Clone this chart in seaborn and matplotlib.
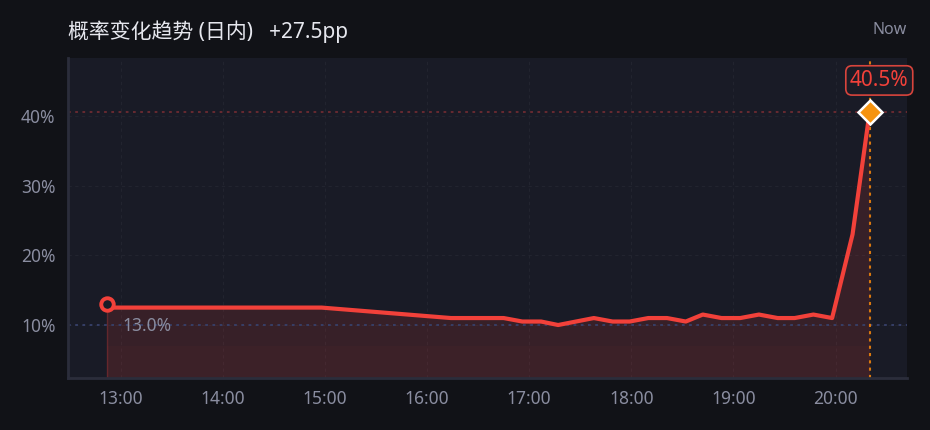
"""
Intraday probability trend chart (dark theme).
"""

import pandas as pd
import matplotlib
matplotlib.use("Agg")
import matplotlib.pyplot as plt
import matplotlib.dates as mdates
from matplotlib.ticker import FuncFormatter
import seaborn as sns

# data
times = ["12:52", "12:55", "14:58", "16:14", "16:45", "16:56", "17:07", "17:17",
         "17:38", "17:49", "17:59", "18:10", "18:21", "18:32", "18:42", "18:53",
         "19:04", "19:15", "19:26", "19:36", "19:47", "19:58", "20:10", "20:20"]
probs = [13.0, 12.5, 12.5, 11.0, 11.0, 10.5, 10.5, 10.0,
         11.0, 10.5, 10.5, 11.0, 11.0, 10.5, 11.5, 11.0,
         11.0, 11.5, 11.0, 11.0, 11.5, 11.0, 23.0, 40.5]
title_text = "概率变化趋势 (日内)   +27.5pp"
y_ticks = [10, 20, 30, 40]
ref_level = 10
x_range = ("12:29", "20:42")
y_range = (2.4, 48.3)

day = "2024-01-01 "
df = pd.DataFrame({"time": pd.to_datetime([day + t for t in times]),
                   "prob": probs})

BG = "#111217"
AX_BG = "#191b26"
RED = "#f2413a"
GRAY = "#8a8da0"
ORANGE = "#f5930f"

sns.set_theme(style="dark")
plt.rcParams["font.family"] = ["Noto Sans", "Noto Sans CJK SC", "DejaVu Sans"]

fig = plt.figure(figsize=(9.3, 4.3), dpi=100, facecolor=BG)
ax = fig.add_axes([68 / 930, 52 / 430, (907 - 68) / 930, (378 - 58) / 430])
ax.set_facecolor(AX_BG)

x0 = pd.Timestamp(day + x_range[0])
x1 = pd.Timestamp(day + x_range[1])
ax.set_xlim(x0, x1)
ax.set_ylim(*y_range)

# grid
ax.grid(True, color="#22242f", linestyle="--", linewidth=0.8, dashes=(3, 3))
ax.set_axisbelow(True)

# filled area under the line (two layers for a soft gradient)
bottom = y_range[0]
ax.fill_between(df["time"], df["prob"], bottom, color=RED, alpha=0.14,
                linewidth=0, zorder=1)
ax.fill_between(df["time"], [min(p, 7.0) for p in df["prob"]], bottom,
                color=RED, alpha=0.03, linewidth=0, zorder=1)
ax.vlines(df["time"].iloc[0], bottom, df["prob"].iloc[0], color=RED,
          alpha=0.3, linewidth=1, zorder=1)

# reference lines
last_t = df["time"].iloc[-1]
last_p = df["prob"].iloc[-1]
ax.axhline(ref_level, color="#37416b", linestyle=(0, (1.5, 2.5)), linewidth=1.3, zorder=2)
ax.axhline(last_p, color="#6e2b32", linestyle=(0, (1.5, 2.5)), linewidth=1.3, zorder=2)
ax.axvline(last_t, color="#d9780f", linestyle=(0, (1.5, 2)), linewidth=1.5, zorder=2)

sns.lineplot(data=df, x="time", y="prob", ax=ax, color=RED, linewidth=3,
             zorder=4, legend=False)

# start / end markers
ax.plot(df["time"].iloc[0], df["prob"].iloc[0], "o", markersize=9,
        markerfacecolor=AX_BG, markeredgecolor=RED, markeredgewidth=2.8, zorder=5)
ax.plot(last_t, last_p, "D", markersize=12, markerfacecolor=ORANGE,
        markeredgecolor="white", markeredgewidth=1.8, zorder=6)

ax.annotate(f"{df['prob'].iloc[0]:.1f}%", (df["time"].iloc[0], df["prob"].iloc[0]),
            xytext=(11, -16), textcoords="offset points", ha="left", va="center",
            color=GRAY, fontsize=12.5, zorder=6)
ax.annotate(f"{last_p:.1f}%", (last_t, last_p), xytext=(7, 23),
            textcoords="offset points", ha="center", va="center",
            color=RED, fontsize=15, zorder=7, annotation_clip=False,
            bbox=dict(boxstyle="round,pad=0.2,rounding_size=0.3",
                      facecolor="#1b1c26", edgecolor="#d8443c", linewidth=1.2))

# axes styling
ax.xaxis.set_major_locator(mdates.HourLocator())
ax.xaxis.set_major_formatter(mdates.DateFormatter("%H:%M"))
ax.set_yticks(y_ticks)
ax.yaxis.set_major_formatter(FuncFormatter(lambda v, _: f"{v:.0f}%"))
ax.tick_params(axis="both", length=0, colors=GRAY, labelsize=12.5)
ax.tick_params(axis="x", pad=9)
ax.tick_params(axis="y", pad=9)
ax.set_xlabel("")
ax.set_ylabel("")
for side in ["top", "right"]:
    ax.spines[side].set_visible(False)
for side in ["left", "bottom"]:
    ax.spines[side].set_visible(True)
    ax.spines[side].set_color("#2b2d3b")
    ax.spines[side].set_linewidth(2)

fig.text(68 / 930, 1 - 32 / 430, title_text, color="#e6e7ee", fontsize=15,
         ha="left", va="center")
fig.text(907 / 930, 1 - 30 / 430, "Now", color=GRAY, fontsize=11.5,
         ha="right", va="center")

fig.savefig("out.png", dpi=100, facecolor=BG)
